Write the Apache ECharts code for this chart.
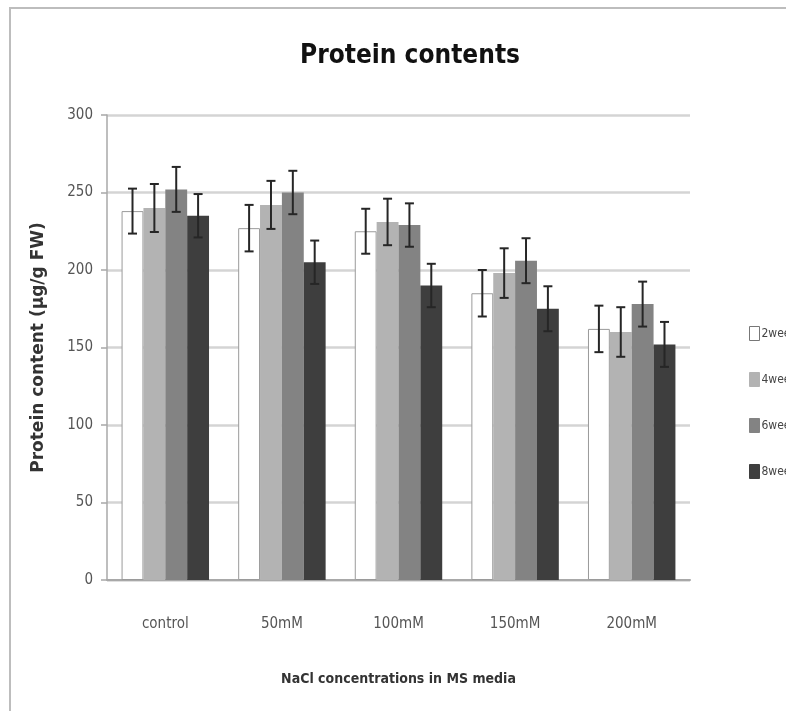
<!DOCTYPE html>
<html>
<head>
<meta charset="utf-8">
<script src="https://cdn.jsdelivr.net/npm/echarts@6/dist/echarts.min.js"></script>
<style>html,body{margin:0;padding:0;background:#fff}#c{width:786px;height:711px}</style>
</head>
<body>
<div id="c"></div>
<script>
var categories = ['control', '50mM', '100mM', '150mM', '200mM'];
var seriesNames = ['2weeks', '4weeks', '6weeks', '8weeks'];
var weeks2 = [238, 227, 225, 185, 162];
var weeks4 = [240, 242, 231, 198, 160];
var weeks6 = [252, 250, 229, 206, 178];
var weeks8 = [235, 205, 190, 175, 152];
var err2 = [14.5, 15, 14.5, 15, 15];
var err4 = [15.5, 15.5, 15, 16, 16];
var err6 = [14.5, 14, 14, 14.5, 14.5];
var err8 = [14, 14, 14, 14.5, 14.5];
var yTicks = [0, 50, 100, 150, 200, 250, 300];

var values = [weeks2, weeks4, weeks6, weeks8];
var errs = [err2, err4, err6, err8];
var colors = ['#ffffff', '#b3b3b3', '#838383', '#3e3e3e'];
var narrow = '"Liberation Sans Narrow", "DejaVu Sans Condensed", sans-serif';
var gapRatio = 0.25;

var chart = echarts.init(document.getElementById('c'));
var series = [];
values.forEach(function (v, i) {
  series.push({
    name: seriesNames[i],
    type: 'bar',
    data: v,
    barGap: '0%',
    barCategoryGap: '25%',
    itemStyle: {
      color: colors[i],
      borderColor: i === 0 ? '#9a9a9a' : colors[i],
      borderWidth: i === 0 ? 1 : 0
    },
    z: 2
  });
});
values.forEach(function (v, i) {
  series.push({
    type: 'custom',
    name: seriesNames[i] + '_err',
    data: v.map(function (val, k) { return [k, val - errs[i][k], val + errs[i][k]]; }),
    z: 5,
    silent: true,
    renderItem: function (params, api) {
      var k = api.value(0);
      var catW = api.size([1, 0])[0];
      var barW = catW * (1 - gapRatio) / 4;
      var off = (i - 1.5) * barW;
      var lo = api.coord([k, api.value(1)]);
      var hi = api.coord([k, api.value(2)]);
      var x = lo[0] + off;
      var cap = 4.5;
      var st = { stroke: '#262626', lineWidth: 2 };
      return {
        type: 'group',
        children: [
          { type: 'line', shape: { x1: x, y1: lo[1], x2: x, y2: hi[1] }, style: st },
          { type: 'line', shape: { x1: x - cap, y1: lo[1], x2: x + cap, y2: lo[1] }, style: st },
          { type: 'line', shape: { x1: x - cap, y1: hi[1], x2: x + cap, y2: hi[1] }, style: st }
        ]
      };
    },
    encode: { x: 0, y: [1, 2] }
  });
});

chart.setOption({
  backgroundColor: '#ffffff',
  animation: false,
  title: {
    text: 'Protein contents',
    left: 405, textAlign: 'center',
    top: 38,
    textStyle: { fontFamily: narrow, fontSize: 26, fontWeight: 'bold', color: '#111' }
  },
  graphic: [{
    type: 'rect',
    shape: { x: 10, y: 8, width: 800, height: 720 },
    style: { fill: 'none', stroke: '#bdbdbd', lineWidth: 2 },
    silent: true
  }],
  legend: {
    orient: 'vertical',
    left: 744, top: 321,
    itemWidth: 10, itemHeight: 14, itemGap: 31,
    icon: 'rect',
    data: seriesNames.map(function (n, i) {
      return { name: n, itemStyle: { color: colors[i], borderColor: i === 0 ? '#777' : colors[i], borderWidth: 1 } };
    }),
    textStyle: { fontFamily: narrow, fontSize: 12, color: '#444', padding: [0, 0, 0, -3] }
  },
  grid: { left: 107, right: 96, top: 115, bottom: 131 },
  xAxis: {
    type: 'category',
    data: categories,
    name: 'NaCl concentrations in MS media',
    nameLocation: 'middle',
    nameGap: 92,
    nameTextStyle: { fontFamily: narrow, fontSize: 14, fontWeight: 'bold', color: '#333' },
    axisLine: { lineStyle: { color: '#a8a8a8', width: 2 } },
    axisTick: { show: false },
    axisLabel: { margin: 37, fontFamily: narrow, fontSize: 15, color: '#555' }
  },
  yAxis: {
    type: 'value',
    min: 0, max: 300, interval: 50,
    name: 'Protein content (µg/g FW)',
    nameLocation: 'middle',
    nameGap: 60,
    nameTextStyle: { fontFamily: '"DejaVu Sans", sans-serif', fontSize: 17, fontWeight: 'bold', color: '#333' },
    axisLine: { show: true, lineStyle: { color: '#a8a8a8', width: 1.5 } },
    axisTick: { show: true, length: 6, lineStyle: { color: '#a8a8a8', width: 1.5 } },
    axisLabel: {
      margin: 14, fontFamily: narrow, fontSize: 15, color: '#555',
      formatter: function (v) { return yTicks.indexOf(v) >= 0 ? String(v) : ''; }
    },
    splitLine: { lineStyle: { color: '#d4d4d4', width: 2.5 } }
  },
  series: series
});
</script>
</body>
</html>
